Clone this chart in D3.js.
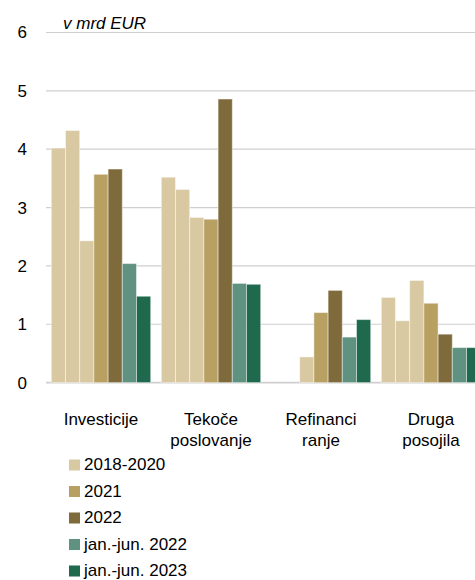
<!DOCTYPE html>
<html>
<head>
<meta charset="utf-8">
<script src="https://cdn.jsdelivr.net/npm/d3@7"></script>
<style>
  html, body { margin: 0; padding: 0; background: #fff; }
  svg { display: block; }
  text { font-family: "Liberation Sans", Arial, sans-serif; fill: #000; }
</style>
</head>
<body>
<div id="chart"></div>
<script>
// ---- data ----
const categories = ["Investicije", "Tekoče poslovanje", "Refinanciranje", "Druga posojila"];
const categoryLabelLines = [["Investicije"], ["Tekoče", "poslovanje"], ["Refinanci", "ranje"], ["Druga", "posojila"]];
const seriesNames = ["2018", "2019", "2020", "2021", "2022", "jan.-jun. 2022", "jan.-jun. 2023"];
const values2018 = [4.02, 3.52, 0, 1.46];
const values2019 = [4.32, 3.31, 0, 1.06];
const values2020 = [2.43, 2.83, 0.44, 1.75];
const values2021 = [3.57, 2.80, 1.20, 1.36];
const values2022 = [3.66, 4.86, 1.58, 0.83];
const valuesH12022 = [2.04, 1.70, 0.78, 0.60];
const valuesH12023 = [1.48, 1.685, 1.08, 0.60];
const seriesValues = [values2018, values2019, values2020, values2021, values2022, valuesH12022, valuesH12023];
const legendLabels = ["2018-2020", "2021", "2022", "jan.-jun. 2022", "jan.-jun. 2023"];
const yTicks = [0, 1, 2, 3, 4, 5, 6];
const unitLabel = "v mrd EUR";

// ---- styles ----
const seriesColors = ["#d8c9a3", "#d8c9a3", "#d8c9a3", "#b89f62", "#7f6a3b", "#5f9280", "#1f6a4f"];
const legendColors = ["#d8c9a3", "#b89f62", "#7f6a3b", "#5f9280", "#1f6a4f"];

const W = 475, H = 580;
const svg = d3.select("#chart").append("svg").attr("width", W).attr("height", H);

const y = d3.scaleLinear().domain([0, 6]).range([382.6, 32.5]);
const x0 = d3.scaleBand().domain(categories).range([46, 486]).paddingInner(0.0964).paddingOuter(0.0482);
const x1 = d3.scaleBand().domain(seriesNames).range([0, x0.bandwidth()]).padding(0);

// gridlines
svg.append("g").selectAll("line").data(yTicks).join("line")
  .attr("x1", 46).attr("x2", W)
  .attr("y1", d => y(d)).attr("y2", d => y(d))
  .attr("stroke", "#cfcfcf").attr("stroke-width", d => d === 0 ? 1.6 : 1.2);

// y axis labels
const yAxis = d3.axisLeft(y).tickValues(yTicks).tickSize(0).tickPadding(0).tickFormat(d3.format("d"));
const yg = svg.append("g").attr("transform", "translate(27,0)").call(yAxis);
yg.select(".domain").remove();
yg.selectAll("text").style("font-size", "17px").style("font-family", "'Liberation Sans', Arial, sans-serif").attr("fill", "#000");

// unit label
svg.append("text").attr("x", 63).attr("y", 29).style("font-size", "17px").style("font-style", "italic").text(unitLabel);

// bars
const groups = svg.append("g").selectAll("g").data(categories).join("g")
  .attr("transform", d => `translate(${x0(d)},0)`);
groups.selectAll("rect")
  .data((c, ci) => seriesNames.map((s, si) => ({ s, si, v: seriesValues[si][ci] })).filter(d => d.v > 0))
  .join("rect")
  .attr("x", d => x1(d.s))
  .attr("width", x1.bandwidth())
  .attr("y", d => y(d.v))
  .attr("height", d => y(0) - y(d.v))
  .attr("fill", d => seriesColors[d.si])
  .attr("stroke", "rgba(255,255,255,0.45)")
  .attr("stroke-width", 1);

// x labels
const xl = svg.append("g").selectAll("text").data(categories).join("text")
  .attr("text-anchor", "middle")
  .attr("x", d => x0(d) + x0.bandwidth() / 2)
  .attr("y", 424.5)
  .style("font-size", "17px");
xl.selectAll("tspan").data((d, i) => categoryLabelLines[i]).join("tspan")
  .attr("x", function () { return d3.select(this.parentNode).attr("x"); })
  .attr("dy", (d, i) => i === 0 ? 0 : 21.5)
  .text(d => d);

// legend
const lg = svg.append("g").selectAll("g").data(legendLabels).join("g")
  .attr("transform", (d, i) => `translate(69,${459.5 + i * 26.5})`);
lg.append("rect").attr("width", 11).attr("height", 11).attr("fill", (d, i) => legendColors[i]);
lg.append("text").attr("x", 15).attr("y", 10.5).style("font-size", "17px").text(d => d);
</script>
</body>
</html>
